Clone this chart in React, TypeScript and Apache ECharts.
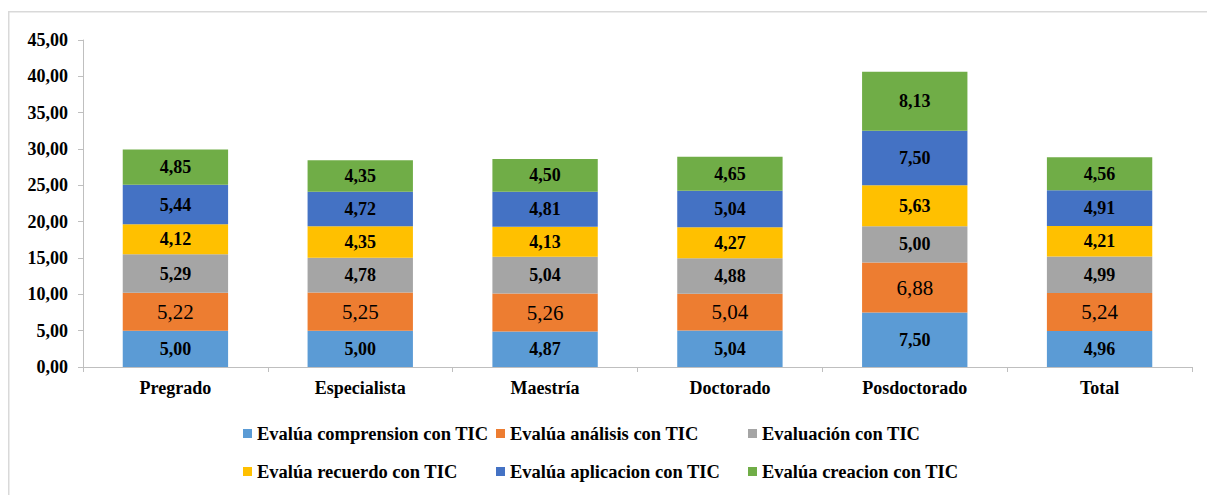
import React, { useEffect, useRef } from "react";
import * as echarts from "echarts";

const categories = ["Pregrado", "Especialista", "Maestría", "Doctorado", "Posdoctorado", "Total"];
const seriesNames = [
  "Evalúa comprension con TIC",
  "Evalúa análisis con TIC",
  "Evaluación con TIC",
  "Evalúa recuerdo con TIC",
  "Evalúa aplicacion con TIC",
  "Evalúa creacion con TIC",
];
const comprension = [5.0, 5.0, 4.87, 5.04, 7.5, 4.96];
const analisis = [5.22, 5.25, 5.26, 5.04, 6.88, 5.24];
const evaluacion = [5.29, 4.78, 5.04, 4.88, 5.0, 4.99];
const recuerdo = [4.12, 4.35, 4.13, 4.27, 5.63, 4.21];
const aplicacion = [5.44, 4.72, 4.81, 5.04, 7.5, 4.91];
const creacion = [4.85, 4.35, 4.5, 4.65, 8.13, 4.56];
const seriesData = [comprension, analisis, evaluacion, recuerdo, aplicacion, creacion];
const colors = ["#5B9BD5", "#ED7D31", "#A5A5A5", "#FFC000", "#4472C4", "#70AD47"];

const FONT = "Liberation Serif";
const fmt = (v: number) => v.toFixed(2).replace(".", ",");

const legendPos = [
  { left: 243, top: 424 },
  { left: 496, top: 424 },
  { left: 748, top: 424 },
  { left: 243, top: 462 },
  { left: 496, top: 462 },
  { left: 748, top: 462 },
];

export default function App() {
  const ref = useRef<HTMLDivElement>(null);
  useEffect(() => {
    if (!ref.current) return;
    const chart = echarts.init(ref.current, null, { renderer: "svg" });
    chart.setOption({
      animation: false,
      backgroundColor: "#ffffff",
      color: colors,
      textStyle: { fontFamily: FONT },
      graphic: [
        {
          type: "rect",
          shape: { x: 8, y: 11, width: 1199, height: 1.5 },
          style: { fill: "#d9d9d9" },
          silent: true,
        },
        {
          type: "rect",
          shape: { x: 8, y: 11, width: 1.5, height: 484 },
          style: { fill: "#d9d9d9" },
          silent: true,
        },
      ],
      legend: seriesNames.map((n, i) => ({
        data: [n],
        left: legendPos[i].left,
        top: legendPos[i].top,
        padding: 0,
        itemWidth: 9,
        itemHeight: 9,
        icon: "rect",
        selectedMode: false,
        textStyle: { fontFamily: FONT, fontWeight: "bold", fontSize: 18.5, color: "#000", lineHeight: 18 },
      })),
      grid: { left: 83, right: 15, top: 40, bottom: 128, containLabel: false },
      xAxis: {
        type: "category",
        data: categories,
        axisLine: { lineStyle: { color: "#bfbfbf", width: 1 } },
        axisTick: { show: true, length: 5, lineStyle: { color: "#bfbfbf" } },
        axisLabel: { margin: 12, fontFamily: FONT, fontWeight: "bold", fontSize: 18, color: "#000" },
      },
      yAxis: {
        type: "value",
        min: 0,
        max: 45,
        interval: 5,
        splitLine: { show: false },
        axisLine: { show: true, lineStyle: { color: "#bfbfbf", width: 1 } },
        axisTick: { show: true, length: 5, lineStyle: { color: "#bfbfbf" } },
        axisLabel: {
          margin: 15,
          fontFamily: FONT,
          fontWeight: "bold",
          fontSize: 18,
          color: "#000",
          formatter: (v: number) => fmt(v),
        },
      },
      series: seriesNames.map((n, i) => ({
        name: n,
        type: "bar",
        stack: "total",
        barWidth: "57%",
        data: seriesData[i],
        itemStyle: { color: colors[i] },
        label: {
          show: true,
          position: "inside",
          color: "#000",
          fontFamily: FONT,
          fontWeight: i === 1 ? "normal" : "bold",
          fontSize: i === 1 ? 21 : 18,
          formatter: (p: any) => fmt(p.value),
        },
      })),
    });
    return () => chart.dispose();
  }, []);
  return (
    <div
      ref={ref}
      style={{ position: "absolute", left: 0, top: 0, width: 1207, height: 495, overflow: "hidden" }}
    />
  );
}
